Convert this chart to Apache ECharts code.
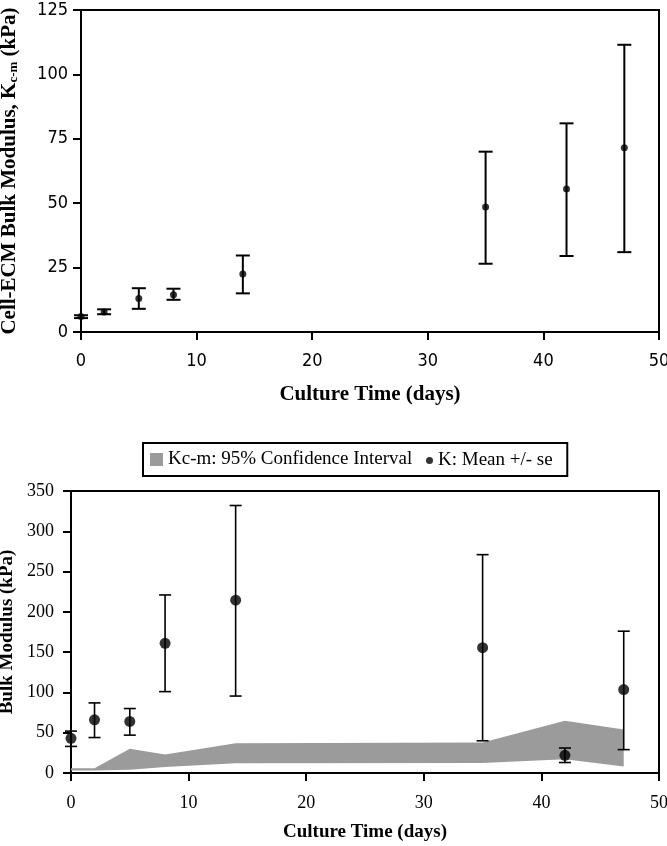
<!DOCTYPE html>
<html><head><meta charset="utf-8">
<script src="https://cdn.jsdelivr.net/npm/echarts@6/dist/echarts.min.js"></script>
<style>html,body{margin:0;padding:0;background:#fff}#c{width:667px;height:846px}</style>
</head><body><div id="c"></div>
<script>
// ---- data ----
const days = [0, 2, 5, 8, 14, 35, 42, 47];
// top panel: cell-ECM bulk modulus Kc-m (kPa)
const kcmMean = [6.0, 7.8, 13, 14.5, 22.5, 48.5, 55.5, 71.5];
const kcmLow  = [5.4, 6.9, 9.0, 12.5, 15.0, 26.5, 29.5, 31.0];
const kcmHigh = [6.5, 8.8, 17.0, 16.8, 29.7, 70.0, 81.0, 111.5];
// bottom panel: K mean +/- se (kPa)
const kMean = [43, 66, 64, 161, 214.5, 155.5, 22, 103.5];
const kLow  = [33, 44, 47, 101, 95.5, 40, 13, 29];
const kHigh = [52, 87, 80, 221, 332, 271, 31, 176];
// bottom panel: Kc-m 95% confidence interval band
const bandLow  = [3, 3, 4, 7.5, 12, 12.5, 17, 8];
const bandHigh = [6, 6, 30, 23, 37, 38, 65, 54];
// axis ranges / tick steps
const xRange = [0, 50, 10];
const topYRange = [0, 125, 25];
const botYRange = [0, 350, 50];
const legendNames = ['Kc-m: 95% Confidence Interval', 'K: Mean +/- se'];

const BAND = '#9b9b9b';
const serif = 'Liberation Serif';
const narrow = '"Liberation Sans Narrow", "DejaVu Sans Condensed", "Liberation Sans", sans-serif';

function errRender(capHalf, lw) {
  return function (params, api) {
    const x = api.value(0), lo = api.value(1), hi = api.value(2);
    const a = api.coord([x, lo]), b = api.coord([x, hi]);
    const st = { stroke: '#000', lineWidth: lw };
    return { type: 'group', children: [
      { type: 'line', shape: { x1: a[0], y1: a[1], x2: b[0], y2: b[1] }, style: st },
      { type: 'line', shape: { x1: a[0] - capHalf, y1: a[1], x2: a[0] + capHalf, y2: a[1] }, style: st },
      { type: 'line', shape: { x1: b[0] - capHalf, y1: b[1], x2: b[0] + capHalf, y2: b[1] }, style: st }
    ]};
  };
}

// band polygon: upper edge left->right, lower edge right->left, all through the axis scales
function bandRender(params, api) {
  if (params.dataIndex !== 0) return null;
  const pts = [];
  for (let i = 0; i < days.length; i++) pts.push(api.coord([days[i], bandHigh[i]]));
  for (let i = days.length - 1; i >= 0; i--) pts.push(api.coord([days[i], bandLow[i]]));
  return { type: 'polygon', shape: { points: pts }, style: { fill: BAND, stroke: null } };
}

const axisLine = { lineStyle: { color: '#000', width: 2 } };
const axisTick = { length: 8, lineStyle: { color: '#000', width: 2 } };

function xAxis(gridIndex, labelFont, labelSize, margin, nameSize, nameGap) {
  return {
    type: 'value', gridIndex, min: xRange[0], max: xRange[1], interval: xRange[2],
    axisLine, axisTick, splitLine: { show: false },
    axisLabel: { color: '#000', fontFamily: labelFont, fontSize: labelSize, margin },
    name: 'Culture Time (days)', nameLocation: 'middle', nameGap,
    nameTextStyle: { color: '#000', fontFamily: serif, fontWeight: 'bold', fontSize: nameSize }
  };
}

const chart = echarts.init(document.getElementById('c'), null, { renderer: 'canvas' });
chart.setOption({
  animation: false,
  backgroundColor: '#fff',
  grid: [
    { left: 81, top: 10, right: 8, bottom: 514, show: true, borderColor: '#000', borderWidth: 2,
      containLabel: false, outerBoundsMode: 'none' },
    { left: 71, top: 491, right: 8, bottom: 73, show: true, borderColor: '#000', borderWidth: 2,
      containLabel: false, outerBoundsMode: 'none' }
  ],
  legend: [
    { left: 143, top: 443, data: [{ name: legendNames[0], icon: 'rect' }], itemWidth: 13, itemHeight: 13,
      borderColor: '#000', borderWidth: 2, padding: [7, 155, 7, 7], selectedMode: false,
      textStyle: { color: '#000', fontFamily: serif, fontSize: 19 } },
    { left: 426, top: 451, data: [{ name: legendNames[1], icon: 'circle' }], itemWidth: 7, itemHeight: 7,
      padding: 0, selectedMode: false,
      textStyle: { color: '#000', fontFamily: serif, fontSize: 19 } }
  ],
  xAxis: [
    xAxis(0, narrow, 18, 20, 21, 52),
    xAxis(1, serif, 18, 21, 19, 50)
  ],
  yAxis: [
    { type: 'value', gridIndex: 0, min: topYRange[0], max: topYRange[1], interval: topYRange[2],
      axisLine, axisTick, splitLine: { show: false },
      axisLabel: { color: '#000', fontFamily: narrow, fontSize: 18, margin: 13 },
      name: 'Cell-ECM Bulk Modulus, K{s|c-m} (kPa)', nameLocation: 'middle', nameGap: 61,
      nameTextStyle: { color: '#000', fontFamily: serif, fontWeight: 'bold', fontSize: 21,
        rich: { s: { fontFamily: serif, fontWeight: 'bold', fontSize: 13, color: '#000', verticalAlign: 'bottom' } } } },
    { type: 'value', gridIndex: 1, min: botYRange[0], max: botYRange[1], interval: botYRange[2],
      axisLine, axisTick, splitLine: { show: false },
      axisLabel: { color: '#000', fontFamily: serif, fontSize: 18, margin: 17 },
      name: 'Bulk Modulus (kPa)', nameLocation: 'middle', nameGap: 52,
      nameTextStyle: { color: '#000', fontFamily: serif, fontWeight: 'bold', fontSize: 19 } }
  ],
  series: [
    { type: 'custom', xAxisIndex: 0, yAxisIndex: 0, renderItem: errRender(7, 2), z: 3,
      encode: { x: 0, y: [1, 2] }, data: days.map((d, i) => [d, kcmLow[i], kcmHigh[i]]) },
    { type: 'scatter', xAxisIndex: 0, yAxisIndex: 0, symbol: 'circle', symbolSize: 7, clip: false, z: 4,
      itemStyle: { color: '#000' }, data: days.map((d, i) => [d, kcmMean[i]]) },
    { type: 'custom', name: legendNames[0], xAxisIndex: 1, yAxisIndex: 1, renderItem: bandRender, z: 1,
      itemStyle: { color: BAND }, encode: { x: 0, y: [1, 2] },
      data: days.map((d, i) => [d, bandLow[i], bandHigh[i]]) },
    { type: 'custom', xAxisIndex: 1, yAxisIndex: 1, renderItem: errRender(6, 1.6), z: 3,
      encode: { x: 0, y: [1, 2] }, data: days.map((d, i) => [d, kLow[i], kHigh[i]]) },
    { type: 'scatter', name: legendNames[1], xAxisIndex: 1, yAxisIndex: 1, symbol: 'circle', symbolSize: 11, clip: false, z: 4,
      itemStyle: { color: '#000' }, data: days.map((d, i) => [d, kMean[i]]) }
  ]
});
</script></body></html>
